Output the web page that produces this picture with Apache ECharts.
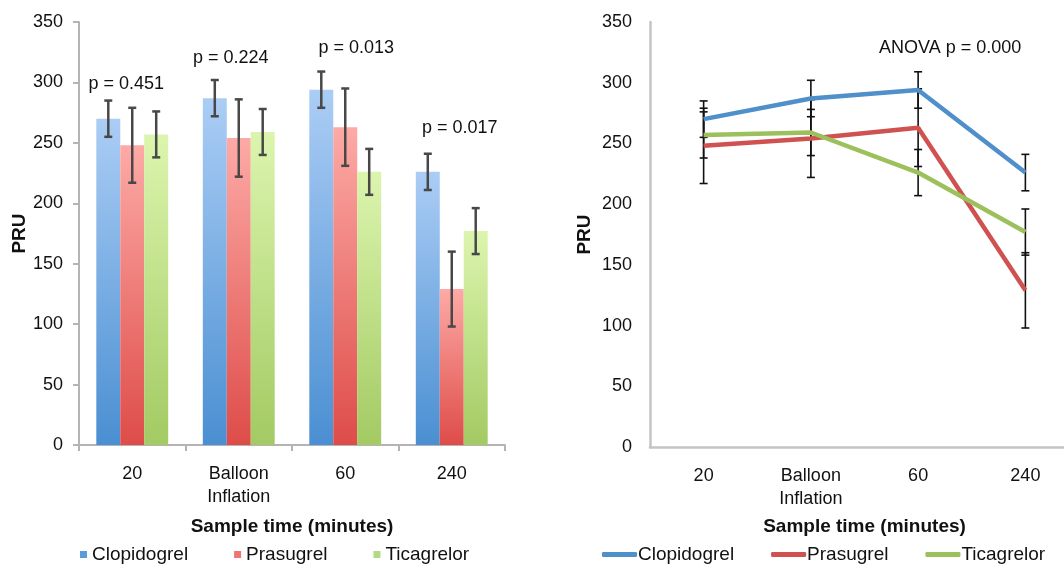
<!DOCTYPE html>
<html>
<head>
<meta charset="utf-8">
<script src="https://cdn.jsdelivr.net/npm/echarts@6/dist/echarts.min.js"></script>
<style>html,body{margin:0;padding:0;background:#fff}#c{width:1064px;height:565px}</style>
</head>
<body>
<div id="c"></div>
<script>
// ---- data ----
const categories = ['20', 'Balloon\nInflation', '60', '240'];
const seriesNames = ['Clopidogrel', 'Prasugrel', 'Ticagrelor'];
const clopidogrel = [270, 287, 294, 226];
const clopidogrelErr = [15, 15, 15, 15];
const prasugrel = [248, 254, 263, 129];
const prasugrelErr = [31, 32, 32, 31];
const ticagrelor = [257, 259, 226, 177];
const ticagrelorErr = [19, 19, 19, 19];
const pLabels = ['p = 0.451', 'p = 0.224', 'p = 0.013', 'p = 0.017'];
const pLevels = [299, 321, 329, 263];
const anovaLabel = 'ANOVA p = 0.000';
const yTicks = { min: 0, max: 350, interval: 50 };

// ---- styles ----
const FONT = '"Liberation Sans", Arial, Helvetica, sans-serif';
const TXT = '#111';
const BAR_FRAC = 0.225;
const pOffsets = [-6, -8, 11, 8];
const grad = (a, b) => ({ type: 'linear', x: 0, y: 0, x2: 0, y2: 1, colorStops: [{ offset: 0, color: a }, { offset: 1, color: b }] });
const barColors = [grad('#abcdf5', '#4a8fd2'), grad('#fdaaa6', '#de4c49'), grad('#dcf5ae', '#a3ca63')];
const barLegendColors = ['#5b9bd9', '#ef7573', '#b3da80'];
const lineColors = ['#4f8fca', '#cf5150', '#9cc05b'];

const vals = [clopidogrel, prasugrel, ticagrelor];
const errs = [clopidogrelErr, prasugrelErr, ticagrelorErr];

function errSeries(k, gridIdx, frac, color, width, cap, z) {
  return {
    type: 'custom', xAxisIndex: gridIdx, yAxisIndex: gridIdx, z: z, silent: true,
    encode: { x: 0, y: 1 },
    data: vals[k].map((v, i) => [i, v, errs[k][i]]),
    renderItem: function (params, api) {
      const i = api.value(0), v = api.value(1), e = api.value(2);
      const band = api.size([1, 0])[0];
      const off = (k - 1) * band * frac;
      const t = api.coord([i, v + e]);
      const b = api.coord([i, v - e]);
      const x = t[0] + off;
      const st = { stroke: color, lineWidth: width };
      return {
        type: 'group', children: [
          { type: 'line', shape: { x1: x, y1: t[1], x2: x, y2: b[1] }, style: st },
          { type: 'line', shape: { x1: x - cap, y1: t[1], x2: x + cap, y2: t[1] }, style: st },
          { type: 'line', shape: { x1: x - cap, y1: b[1], x2: x + cap, y2: b[1] }, style: st }
        ]
      };
    }
  };
}

const axisLabelStyle = { color: TXT, fontSize: 18, fontFamily: FONT };
const nameStyle = { color: TXT, fontSize: 19, fontWeight: 'bold', fontFamily: FONT };

const series = [];
// left: bars
for (let k = 0; k < 3; k++) {
  series.push({
    name: seriesNames[k], type: 'bar', xAxisIndex: 0, yAxisIndex: 0,
    barWidth: (BAR_FRAC * 100) + '%', barGap: '0%',
    itemStyle: { color: barColors[k] }, data: vals[k], z: 2
  });
}
for (let k = 0; k < 3; k++) series.push(errSeries(k, 0, BAR_FRAC, '#484848', 2.5, 4, 5));
series.push({
  type: 'scatter', xAxisIndex: 0, yAxisIndex: 0, symbolSize: 1, silent: true, z: 6,
  itemStyle: { color: '#ffffff', opacity: 0 },
  data: pLabels.map((t, i) => ({ value: [i, pLevels[i]], label: { offset: [pOffsets[i], 10] } })),
  label: { show: true, position: 'top', distance: 0, color: TXT, opacity: 1, fontSize: 18, fontFamily: FONT,
    textBorderWidth: 0, formatter: p => pLabels[p.dataIndex] }
});
// right: lines
for (let k = 0; k < 3; k++) series.push(errSeries(k, 1, 0, '#111', 1.6, 4, 2));
for (let k = 0; k < 3; k++) {
  series.push({
    name: seriesNames[k], type: 'line', xAxisIndex: 1, yAxisIndex: 1,
    symbol: 'none', lineStyle: { color: lineColors[k], width: 4.5 },
    itemStyle: { color: lineColors[k] }, data: vals[k], z: 4
  });
}

const option = {
  backgroundColor: '#fff',
  animation: false,
  grid: [
    { left: 79, width: 426, top: 22, bottom: 120, outerBoundsMode: 'none', containLabel: false },
    { left: 650, width: 429, top: 22, bottom: 118, outerBoundsMode: 'none', containLabel: false }
  ],
  xAxis: [
    {
      type: 'category', gridIndex: 0, data: categories,
      name: 'Sample time (minutes)', nameLocation: 'middle', nameGap: 72, nameTextStyle: nameStyle,
      axisLine: { lineStyle: { color: '#b4b4b4', width: 2 } },
      axisTick: { show: true, length: 6, lineStyle: { color: '#b4b4b4', width: 2 } },
      axisLabel: Object.assign({ margin: 18, lineHeight: 23, interval: 0 }, axisLabelStyle)
    },
    {
      type: 'category', gridIndex: 1, data: categories,
      name: 'Sample time (minutes)', nameLocation: 'middle', nameGap: 70, nameTextStyle: nameStyle,
      axisLine: { lineStyle: { color: '#c4c4c4', width: 2.5 } },
      axisTick: { show: false },
      axisLabel: Object.assign({ margin: 18, lineHeight: 23, interval: 0 }, axisLabelStyle)
    }
  ],
  yAxis: [
    {
      type: 'value', gridIndex: 0, min: yTicks.min, max: yTicks.max, interval: yTicks.interval,
      name: 'PRU', nameLocation: 'middle', nameGap: 49, nameTextStyle: nameStyle,
      axisLine: { show: true, lineStyle: { color: '#b4b4b4', width: 2 } },
      axisTick: { show: true, length: 6, lineStyle: { color: '#b4b4b4', width: 2 } },
      splitLine: { show: false },
      axisLabel: Object.assign({ margin: 16 }, axisLabelStyle)
    },
    {
      type: 'value', gridIndex: 1, min: yTicks.min, max: yTicks.max, interval: yTicks.interval,
      name: 'PRU', nameLocation: 'middle', nameGap: 56, nameTextStyle: nameStyle,
      axisLine: { show: true, lineStyle: { color: '#c4c4c4', width: 2.5 } },
      axisTick: { show: false },
      splitLine: { show: false },
      axisLabel: Object.assign({ margin: 18 }, axisLabelStyle)
    }
  ],
  legend: [
    {
      left: 75, top: 540, itemWidth: 7, itemHeight: 7, itemGap: 46, icon: 'rect',
      textStyle: { color: TXT, fontSize: 19, fontFamily: FONT },
      data: seriesNames.map((n, k) => ({ name: n, icon: 'rect', itemStyle: { color: barLegendColors[k] } }))
    },
    {
      left: 597, top: 540, itemWidth: 35, itemHeight: 5, itemGap: 37,
      textStyle: { color: TXT, fontSize: 19, fontFamily: FONT, padding: [0, 0, 0, -4] },
      data: seriesNames.map((n, k) => ({ name: n, icon: 'roundRect', itemStyle: { color: lineColors[k] }, lineStyle: { color: lineColors[k] } }))
    }
  ],
  graphic: [
    { type: 'text', left: 879, top: 39, style: { text: anovaLabel, fill: TXT, font: '18px ' + FONT } }
  ],
  series: series
};

const chart = echarts.init(document.getElementById('c'), null, { renderer: 'canvas' });
chart.setOption(option);
</script>
</body>
</html>
